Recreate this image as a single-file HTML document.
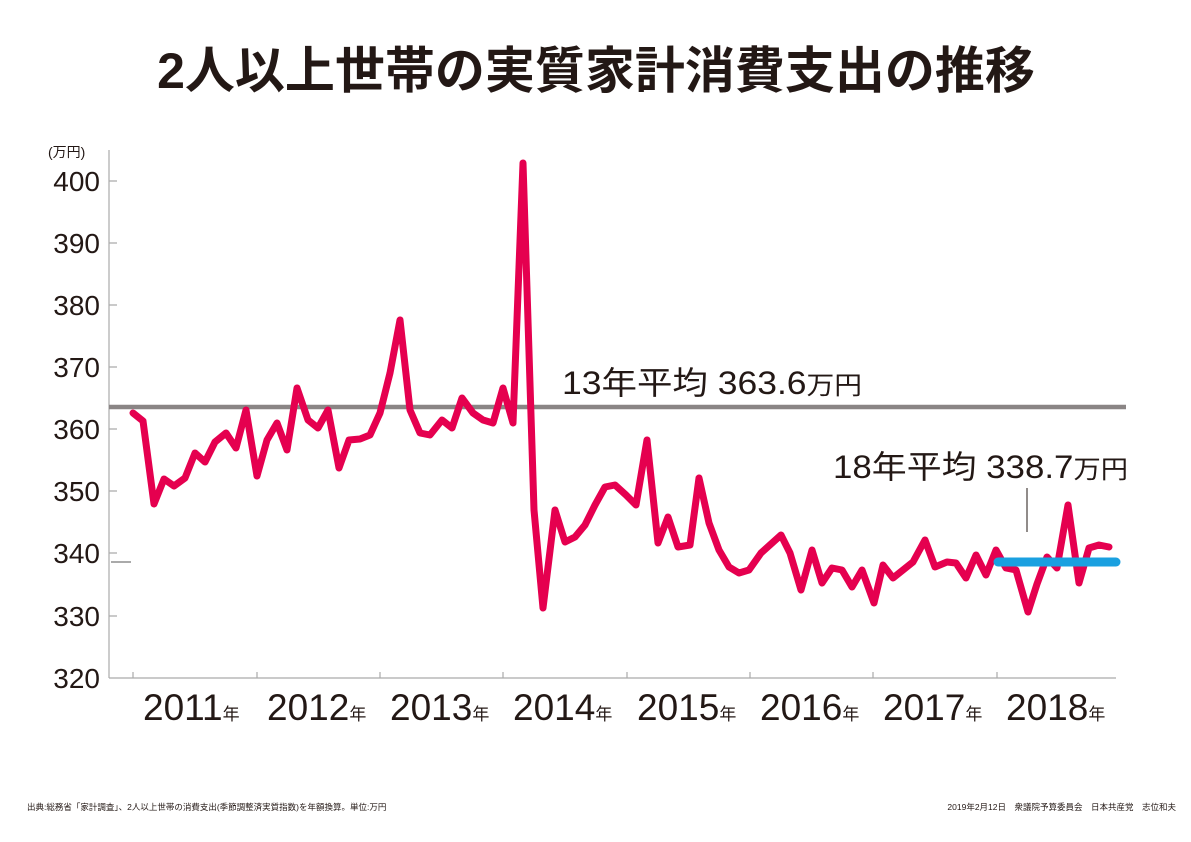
<!DOCTYPE html>
<html><head><meta charset="utf-8"><style>
body{margin:0;background:#fff;}
svg{display:block;}
text{font-family:"Liberation Sans","Noto Sans CJK JP",sans-serif;fill:#231815;}
</style></head><body>
<svg width="1191" height="842" viewBox="0 0 1191 842" xmlns="http://www.w3.org/2000/svg">
<text x="596" y="88" text-anchor="middle" font-size="50" font-weight="bold" font-family="'Noto Sans CJK JP',sans-serif">2人以上世帯の実質家計消費支出の推移</text>
<text x="48" y="157" font-size="14">(万円)</text>
<g font-size="28" text-anchor="end">
<text x="100" y="191">400</text><text x="100" y="253">390</text><text x="100" y="315">380</text>
<text x="100" y="377">370</text><text x="100" y="439">360</text><text x="100" y="501">350</text>
<text x="100" y="563">340</text><text x="100" y="626">330</text><text x="100" y="688">320</text>
</g>
<g stroke="#aaa" stroke-width="1.2" fill="none">
<line x1="109" y1="150" x2="109" y2="678"/>
<line x1="109" y1="678" x2="1116" y2="678"/>
<path d="M109 181h8M109 243h8M109 305h8M109 367h8M109 429h8M109 491h8M109 553h8M109 616h8"/>
<path d="M133 678v-6M257 678v-6M380 678v-6M503 678v-6M627 678v-6M750 678v-6M873 678v-6M997 678v-6"/>
</g>
<line x1="111" y1="562" x2="131" y2="562" stroke="#555" stroke-width="1"/>
<g font-size="37">
<text x="143" y="720">2011<tspan font-size="17">年</tspan></text>
<text x="267" y="720">2012<tspan font-size="17">年</tspan></text>
<text x="390" y="720">2013<tspan font-size="17">年</tspan></text>
<text x="513" y="720">2014<tspan font-size="17">年</tspan></text>
<text x="637" y="720">2015<tspan font-size="17">年</tspan></text>
<text x="760" y="720">2016<tspan font-size="17">年</tspan></text>
<text x="883" y="720">2017<tspan font-size="17">年</tspan></text>
<text x="1006" y="720">2018<tspan font-size="17">年</tspan></text>
</g>
<line x1="109" y1="407" x2="1126" y2="407" stroke="#8a8585" stroke-width="4.5"/>
<polyline fill="none" stroke="#e5004f" stroke-width="7" stroke-linejoin="round" stroke-linecap="round" points="133,413 143,421 154,504 164,479 174,486 185,478 195,453 205,462 215,442 226,433 236,448 246,410 257,476 267,440 277,423 287,450 297,388 308,420 318,428 328,410 339,468 349,440 360,439 370,435 380,413 390,373 400,320 410,410 420,433 430,435 442,420 452,428 462,398 473,413 483,420 493,423 503,388 513,423 523,163 534,510 543,608 555,510 565,542 575,537 585,525 595,505 605,487 615,485 626,495 636,505 647,440 658,543 668,517 678,547 690,545 699,478 709,523 719,550 729,567 739,573 749,570 761,553 771,544 781,535 790,553 801,590 812,550 822,583 832,568 842,570 852,587 862,570 874,603 883,565 893,578 903,570 913,562 925,540 935,567 947,562 956,563 966,578 976,555 986,575 996,550 1006,568 1016,570 1028,612 1037,584 1047,557 1057,568 1068,505 1079,583 1089,548 1099,545 1109,547"/>
<line x1="998" y1="562" x2="1116" y2="562" stroke="#1aa0e0" stroke-width="9" stroke-linecap="round"/>
<line x1="1027" y1="488" x2="1027" y2="532" stroke="#231815" stroke-width="1"/>
<text x="562" y="394" font-size="32" textLength="300" lengthAdjust="spacingAndGlyphs">13年平均 363.6<tspan font-size="25">万円</tspan></text>
<text x="833" y="478" font-size="32" textLength="295" lengthAdjust="spacingAndGlyphs">18年平均 338.7<tspan font-size="25">万円</tspan></text>
<text x="27" y="810" font-size="8.5">出典:総務省「家計調査」、2人以上世帯の消費支出(季節調整済実質指数)を年額換算。単位:万円</text>
<text x="1176" y="810" font-size="8.5" text-anchor="end">2019年2月12日　衆議院予算委員会　日本共産党　志位和夫</text>
</svg>
</body></html>
